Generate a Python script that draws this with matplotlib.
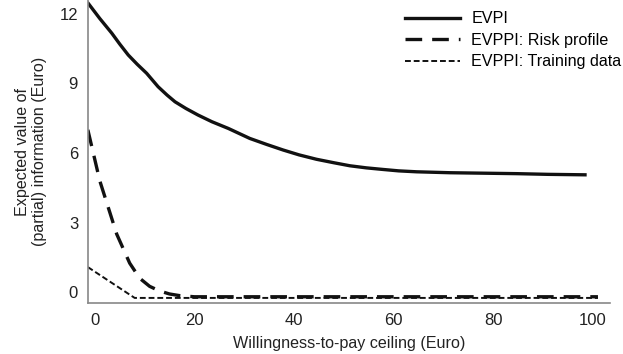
import matplotlib.pyplot as plt

plt.rcParams['font.family'] = ['Liberation Sans', 'DejaVu Sans']

# willingness-to-pay ceiling (Euro) and the values
wtp_evpi = [-1.3, 1, 3.4, 5, 6.7, 8.5, 10.4, 12.7, 14.5, 16.1, 18.3, 20.7, 23.5, 26.8, 31.1, 34.5,
            37.8, 41, 44.5, 48, 51.2, 54.5, 57.9, 61, 64.6, 71.3, 78, 84.7, 91, 98.4]
evpi = [12.45, 11.8, 11.17, 10.7, 10.23, 9.83, 9.44, 8.86, 8.5, 8.21, 7.92, 7.64, 7.35, 7.06, 6.63, 6.37,
        6.13, 5.92, 5.73, 5.58, 5.45, 5.36, 5.29, 5.23, 5.19, 5.15, 5.13, 5.11, 5.08, 5.06]

wtp_risk = [-1.4, 1, 4.4, 7, 9, 11, 13, 15, 17, 20, 40, 60, 80, 101]
evppi_risk = [7.0, 4.8, 2.5, 1.25, 0.6, 0.25, 0.05, -0.08, -0.15, -0.2, -0.2, -0.2, -0.2, -0.2]

wtp_train = [-1.4, 8, 20, 40, 60, 80, 101]
evppi_train = [1.08, -0.25, -0.25, -0.25, -0.25, -0.25, -0.25]

fig = plt.figure(figsize=(6.23, 3.54), dpi=100)
ax = fig.add_axes([0.141, 0.144, 0.838, 0.856])

ax.plot(wtp_evpi, evpi, color='#111111', lw=2.4, label='EVPI')
ax.plot(wtp_risk, evppi_risk, color='#111111', lw=2.4, dashes=(5, 3), label='EVPPI: Risk profile')
ax.plot(wtp_train, evppi_train, color='#111111', lw=1.4, dashes=(3, 1.5), label='EVPPI: Training data')

ax.set_xlim(-1.4, 103.4)
ax.set_ylim(-0.47, 12.6)
ax.set_xticks([0, 20, 40, 60, 80, 100])
ax.set_yticks([0, 3, 6, 9, 12])
ax.tick_params(length=0, labelsize=12, colors='#222222', pad=7)
for s in ['top', 'right']:
    ax.spines[s].set_visible(False)
for s in ['left', 'bottom']:
    ax.spines[s].set_color('#888888')
    ax.spines[s].set_linewidth(1.2)

ax.set_xlabel('Willingness-to-pay ceiling (Euro)', fontsize=11.6, color='#222222', labelpad=6)
ax.set_ylabel('Expected value of\n(partial) information (Euro)', fontsize=11.6, color='#222222', labelpad=9)

ax.legend(loc='upper right', frameon=False, fontsize=11.6, handlelength=3.4,
          labelspacing=0.4, handletextpad=0.7, bbox_to_anchor=(1.05, 1.01))

fig.savefig('out.png', dpi=100)
